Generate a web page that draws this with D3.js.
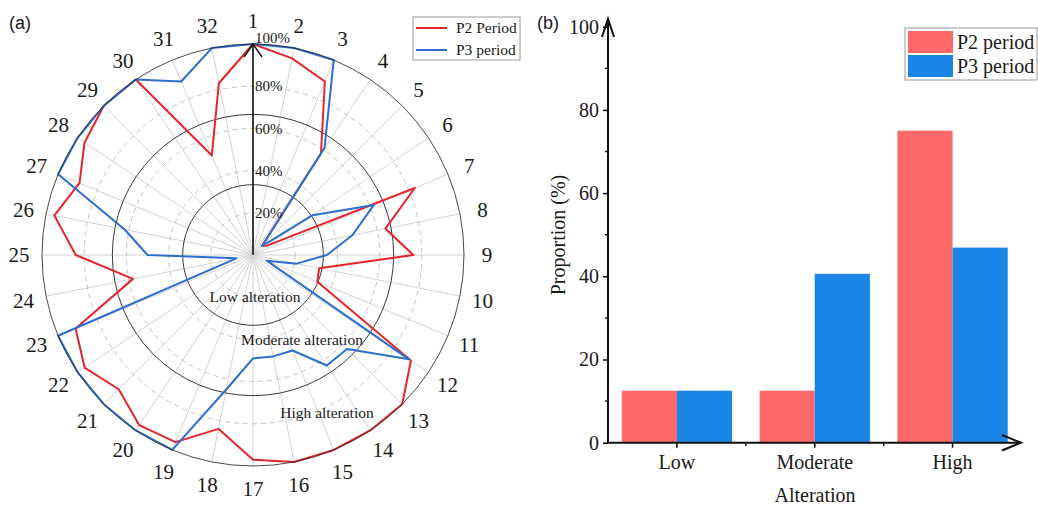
<!DOCTYPE html>
<html>
<head>
<meta charset="utf-8">
<script src="https://cdn.jsdelivr.net/npm/d3@7/dist/d3.min.js"></script>
<style>
  html, body { margin: 0; padding: 0; background: #fff; }
  svg { display: block; }
  text { font-family: "Liberation Serif", "Times New Roman", serif; fill: #1a1a1a; }
  .sans { font-family: "Liberation Sans", Arial, sans-serif; }
</style>
</head>
<body>
<svg id="chart" width="1038" height="506"></svg>
<script>
// ---- Panel (a): degree of alteration at each indicator ----
const indicators = ["1","2","3","4","5","6","7","8","9","10","11","12","13","14","15","16",
                    "17","18","19","20","21","22","23","24","25","26","27","28","29","30","31","32"];
const p2Alteration = [100, 95, 89, 58, 6, 8, 83, 64, 76, 32, 33, 90, 100, 100, 100, 100,
                      97, 84, 96, 97, 90, 96, 91, 58, 84, 96, 89, 96, 100, 100, 51, 83];
const p3Alteration = [100, 100, 100, 61, 6, 34, 62, 48, 35, 21, 7, 89, 63, 63, 49, 49,
                      49, 65, 100, 100, 100, 100, 100, 8, 50, 62, 100, 100, 100, 100, 89, 100];
const percentTicks = [20, 40, 60, 80, 100];
const zoneBounds = [100 / 3, 200 / 3];
const radarSeries = ["P2 Period", "P3 period"];

// ---- Panel (b): share of indicators per alteration class ----
const classes = ["Low", "Moderate", "High"];
const p2Share = [12.5, 12.5, 75];
const p3Share = [12.5, 40.6, 46.9];
const barSeries = ["P2 period", "P3 period"];
const yTicks = [0, 20, 40, 60, 80, 100];

const svg = d3.select("#chart");

/* ================= Radar ================= */
const lineRed = "#e5252c", lineBlue = "#2c6fd0";
const cx = 253, cy = 255, R = 211;
const rScale = d3.scaleLinear().domain([0, 100]).range([0, R]);
const aScale = d3.scaleLinear().domain([0, indicators.length]).range([0, 2 * Math.PI]);

const radar = svg.append("g").attr("transform", `translate(${cx},${cy})`);

// spokes
radar.append("g").selectAll("line").data(indicators).join("line")
  .attr("x1", 0).attr("y1", 0)
  .attr("x2", (d, i) => d3.pointRadial(aScale(i), R)[0])
  .attr("y2", (d, i) => d3.pointRadial(aScale(i), R)[1])
  .attr("stroke", "#d2d2d2").attr("stroke-width", 1);

// dashed percentage rings
radar.append("g").selectAll("circle").data(percentTicks.filter(v => v < 100)).join("circle")
  .attr("r", d => rScale(d)).attr("fill", "none")
  .attr("stroke", "#c4c4c4").attr("stroke-width", 1).attr("stroke-dasharray", "5,4");

// class boundaries
radar.append("g").selectAll("circle").data(zoneBounds).join("circle")
  .attr("r", d => rScale(d)).attr("fill", "none")
  .attr("stroke", "#3a3a3a").attr("stroke-width", 1);

// zone names
const zoneText = [
  { t: "Low alteration", x: 2, y: 42 },
  { t: "Moderate alteration", x: 49, y: 85 },
  { t: "High alteration", x: 74, y: 158 }
];
radar.append("g").selectAll("text").data(zoneText).join("text")
  .attr("x", d => d.x).attr("y", d => d.y).attr("dy", "0.35em")
  .attr("text-anchor", "middle").attr("font-size", 15.5).text(d => d.t);

// series polygons
const radial = d3.lineRadial()
  .angle((d, i) => aScale(i))
  .radius(d => rScale(d))
  .curve(d3.curveLinearClosed);

radar.append("path").datum(p2Alteration).attr("d", radial)
  .attr("fill", "none").attr("stroke", lineRed).attr("stroke-width", 2).attr("stroke-linejoin", "round");
radar.append("path").datum(p3Alteration).attr("d", radial)
  .attr("fill", "none").attr("stroke", lineBlue).attr("stroke-width", 2).attr("stroke-linejoin", "round");

// outer ring
radar.append("circle").attr("r", R).attr("fill", "none")
  .attr("stroke", "#2a2a2a").attr("stroke-width", 1).attr("stroke-opacity", 0.85);

// vertical value axis with arrow
radar.append("line").attr("x1", 0).attr("y1", 0).attr("x2", 0).attr("y2", -R)
  .attr("stroke", "#111").attr("stroke-width", 1.6);
radar.append("path").attr("d", `M-9,${-R + 13}L0,${-R}L9,${-R + 13}`)
  .attr("fill", "none").attr("stroke", "#111").attr("stroke-width", 1.5);

// percentage labels
radar.append("g").selectAll("text").data(percentTicks).join("text")
  .attr("x", 2).attr("y", d => -rScale(d) - (d === 100 ? 6 : 0)).attr("dy", "0.35em")
  .attr("font-size", 15).text(d => d + "%");

// indicator numbers
radar.append("g").selectAll("text").data(indicators).join("text")
  .attr("x", (d, i) => d3.pointRadial(aScale(i), 234)[0])
  .attr("y", (d, i) => d3.pointRadial(aScale(i), 234)[1])
  .attr("dy", "0.35em").attr("text-anchor", "middle")
  .attr("font-size", 21).text(d => d);

// legend (a)
const legA = svg.append("g").attr("transform", "translate(413,17)");
legA.append("rect").attr("width", 107).attr("height", 43)
  .attr("fill", "#fff").attr("stroke", "#9a9a9a").attr("stroke-width", 1);
legA.selectAll("line").data(radarSeries).join("line")
  .attr("x1", 3).attr("x2", 34)
  .attr("y1", (d, i) => 11 + i * 22).attr("y2", (d, i) => 11 + i * 22)
  .attr("stroke", (d, i) => i ? lineBlue : lineRed).attr("stroke-width", 2);
legA.selectAll("text").data(radarSeries).join("text")
  .attr("x", 43).attr("y", (d, i) => 11 + i * 22).attr("dy", "0.35em")
  .attr("font-size", 15.5).text(d => d);

svg.append("text").attr("class", "sans").attr("x", 9).attr("y", 29)
  .attr("font-size", 18).text("(a)");

/* ================= Bars ================= */
const barRed = "#fd6969", barBlue = "#1b86e8";
const x0 = d3.scaleBand().domain(classes).range([608, 1021.5]).paddingInner(0.2).paddingOuter(0.1);
const x1 = d3.scaleBand().domain(barSeries).range([0, x0.bandwidth()]);
const y = d3.scaleLinear().domain([0, 100]).range([442.7, 26.7]);

const bars = svg.append("g");
const rows = classes.map((c, i) => ({ c, vals: [p2Share[i], p3Share[i]] }));
bars.selectAll("g").data(rows).join("g")
  .attr("transform", d => `translate(${x0(d.c)},0)`)
  .selectAll("rect").data(d => d.vals.map((v, j) => ({ s: barSeries[j], v })))
  .join("rect")
  .attr("x", d => x1(d.s)).attr("width", x1.bandwidth())
  .attr("y", d => y(d.v)).attr("height", d => y(0) - y(d.v))
  .attr("fill", d => d.s === barSeries[0] ? barRed : barBlue);

// y axis
const yAxis = svg.append("g").attr("transform", "translate(608,0)")
  .call(d3.axisLeft(y).tickValues(yTicks).tickSize(5).tickPadding(4).tickSizeOuter(0));
yAxis.select(".domain").remove();
yAxis.selectAll(".tick line").attr("stroke", "#111").attr("stroke-width", 1.6);
yAxis.selectAll(".tick text").attr("font-size", 20)
  .attr("font-family", "Liberation Serif, serif").attr("fill", "#1a1a1a");
svg.append("g").selectAll("line").data([10, 30, 50, 70, 90]).join("line")
  .attr("x1", 605).attr("x2", 608).attr("y1", d => y(d)).attr("y2", d => y(d))
  .attr("stroke", "#111").attr("stroke-width", 1.4);
svg.append("line").attr("x1", 608).attr("x2", 608).attr("y1", 443.5).attr("y2", 20)
  .attr("stroke", "#111").attr("stroke-width", 2);
svg.append("path").attr("d", "M602,37L608,19L614,37")
  .attr("fill", "none").attr("stroke", "#111").attr("stroke-width", 2);

// x axis
const xAxis = svg.append("g").attr("transform", "translate(0,442.7)")
  .call(d3.axisBottom(x0).tickSize(5).tickPadding(7).tickSizeOuter(0));
xAxis.select(".domain").remove();
xAxis.selectAll(".tick line").attr("stroke", "#111").attr("stroke-width", 1.6);
xAxis.selectAll(".tick text").attr("font-size", 20)
  .attr("font-family", "Liberation Serif, serif").attr("fill", "#1a1a1a");
svg.append("g").selectAll("line").data(classes.slice(1)).join("line")
  .attr("x1", d => x0(d) - x0.step() * 0.1).attr("x2", d => x0(d) - x0.step() * 0.1)
  .attr("y1", 442.7).attr("y2", 446)
  .attr("stroke", "#111").attr("stroke-width", 1.4);
svg.append("line").attr("x1", 607).attr("x2", 1021).attr("y1", 442.7).attr("y2", 442.7)
  .attr("stroke", "#111").attr("stroke-width", 2);
svg.append("path").attr("d", "M1002,435L1021,442.7L1002,450.5")
  .attr("fill", "none").attr("stroke", "#111").attr("stroke-width", 2);

// axis titles
svg.append("text").attr("x", 815).attr("y", 495).attr("dy", "0.35em")
  .attr("text-anchor", "middle").attr("font-size", 20).text("Alteration");
svg.append("text").attr("transform", "translate(558,235) rotate(-90)").attr("dy", "0.35em")
  .attr("text-anchor", "middle").attr("font-size", 20).text("Proportion (%)");

// legend (b)
const legB = svg.append("g").attr("transform", "translate(905,28)");
legB.append("rect").attr("width", 132).attr("height", 52)
  .attr("fill", "#fff").attr("stroke", "#9a9a9a").attr("stroke-width", 1);
legB.selectAll(".sw").data(barSeries).join("rect").attr("class", "sw")
  .attr("x", 3).attr("y", (d, i) => 3 + i * 24).attr("width", 45).attr("height", 22)
  .attr("fill", (d, i) => i ? barBlue : barRed);
legB.selectAll("text").data(barSeries).join("text")
  .attr("x", 52).attr("y", (d, i) => 14 + i * 24).attr("dy", "0.35em")
  .attr("font-size", 20).text(d => d);

svg.append("text").attr("class", "sans").attr("x", 537).attr("y", 29)
  .attr("font-size", 18).text("(b)");
</script>
</body>
</html>
